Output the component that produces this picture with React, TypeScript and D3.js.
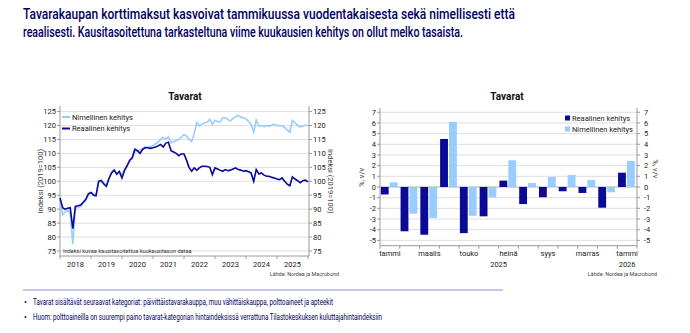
import React from 'react';
import * as d3 from 'd3';

// Monthly index, 2019 = 100, seasonally adjusted, Jan 2018 .. Jan 2026
const indexStart = new Date(2018, 0, 1);
const realIndex = [
  94, 90.5, 90, 90.3, 90.5, 83, 91, 91.2, 91.5, 92.5, 93.5, 95.5,
  96, 95, 94.8, 100, 100.3, 99, 98.2, 101, 103, 104, 102.5, 103.5,
  101.2, 104, 105.5, 107.5, 108.5, 111.5, 111, 110, 111.5, 112, 112, 111.8,
  112, 112.3, 112.7, 113.2, 112.3, 113.7, 114, 111, 110.5, 110, 109.2, 109.8,
  109.8, 107.5, 105, 103.6, 104.8, 104, 104.8, 105.4, 105.4, 105.3, 105, 102.4,
  104.8, 104.4, 104, 103.6, 104.2, 103.8, 104, 104.4, 104.8, 104.2, 104, 103.6,
  103.8, 103.4, 103, 100, 104.2, 102.6, 103, 102.2, 101.8, 101.8, 101.4, 101.2,
  100.8, 100.6, 101.2, 100, 99, 98.4, 101.6, 100.8, 100.2, 99.5, 100.2, 100.4,
  99.8,
];
const nominalIndex = [
  94, 88, 89, 89.5, 88.5, 77.5, 90.5, 90.5, 91, 92, 93.3, 95,
  96, 95.5, 95, 99.5, 100, 99.5, 98.5, 101, 103.5, 104, 103, 103.5,
  102.5, 104, 105.5, 107.5, 108, 110.5, 110.8, 111.3, 111.5, 112.5, 112, 112.5,
  112.7, 113.5, 114, 115, 115.7, 115.1, 116, 113.8, 114.2, 114.6, 115, 115.8,
  116.8, 116.2, 115, 114.3, 117, 121, 119.8, 120.5, 121, 121.2, 122.2, 120.4,
  121.9, 121.4, 121.2, 122.8, 122.8, 122.2, 121.6, 122.5, 123.2, 123.6, 123, 122.8,
  122.4, 121.5, 120.5, 117.6, 121.9, 119.7, 120, 119.6, 120, 119.7, 120.2, 120.4,
  119.9, 120, 119.8, 119.3, 118.4, 117.6, 121.9, 121, 120, 119.5, 119.8, 120.1,
  120,
];
const indexTicks = [75, 80, 85, 90, 95, 100, 105, 110, 115, 120, 125];
const yearLabels = [2018, 2019, 2020, 2021, 2022, 2023, 2024, 2025];

// Year-on-year change, %, Jan 2025 .. Jan 2026
const months = ['tammi', 'helmi', 'maalis', 'huhti', 'touko', 'kesä', 'heinä', 'elo', 'syys', 'loka', 'marras', 'joulu', 'tammi '];
const monthLabels = ['tammi', 'maalis', 'touko', 'heinä', 'syys', 'marras', 'tammi '];
const realYoY = [-0.7, -4.15, -4.47, 4.5, -4.32, -2.75, 0.6, -1.6, -0.96, -0.4, -0.56, -1.94, 1.34];
const nominalYoY = [0.44, -2.5, -2.9, 6.1, -2.7, -0.97, 2.5, 0.38, 0.94, 1.12, 0.66, -0.5, 2.44];
const pctTicks = [-5, -4, -3, -2, -1, 0, 1, 2, 3, 4, 5, 6, 7];

const DARK = '#0a0a96';
const LIGHT = '#99ccff';
const NAVY = '#00005e';
const GRID = '#dedede';
const AXIS = '#9a9a9a';
const TXT = '#222';
const FONT = 'Roboto, "Noto Sans", sans-serif';

const IndexChart = () => {
  const x = d3.scaleTime().domain([indexStart, new Date(2026, 0, 1)]).range([60, 308]);
  const y = d3.scaleLinear().domain([73.2, 127]).range([256, 106]);
  const dates = realIndex.map((_, i) => d3.timeMonth.offset(indexStart, i));
  const line = d3.line<number>().x((_, i) => x(dates[i])).y(d => y(d));
  const yearTicks = d3.range(2018, 2027).map(yr => new Date(yr, 0, 1));
  const [x0, x1] = x.range();
  const [yb, yt] = y.range();

  return (
    <g fontFamily={FONT}>
      <text x={185} y={100} textAnchor="middle" fontSize={10} fontWeight={700} fill="#111">Tavarat</text>
      {indexTicks.map(t => (
        <line key={t} x1={x0} x2={x1 + 1} y1={y(t)} y2={y(t)} stroke={GRID} strokeWidth={1} />
      ))}
      <line x1={x0} x2={x0} y1={yt} y2={yb} stroke={AXIS} />
      <line x1={x1 + 1} x2={x1 + 1} y1={yt} y2={yb} stroke={AXIS} />
      <line x1={x0} x2={x1 + 1} y1={yb} y2={yb} stroke={AXIS} />
      {indexTicks.map(t => (
        <g key={t} fontSize={7.5} fill={TXT}>
          <line x1={x0 - 3} x2={x0} y1={y(t)} y2={y(t)} stroke={AXIS} />
          <line x1={x1 + 1} x2={x1 + 4} y1={y(t)} y2={y(t)} stroke={AXIS} />
          <text x={x0 - 4} y={y(t) + 2.7} textAnchor="end">{t}</text>
          <text x={x1 + 5} y={y(t) + 2.7}>{t}</text>
        </g>
      ))}
      {yearTicks.map((d, i) => (
        <line key={i} x1={x(d)} x2={x(d)} y1={yb} y2={yb + 3} stroke={AXIS} />
      ))}
      {yearLabels.map(yr => (
        <text key={yr} x={(x(new Date(yr, 0, 1)) + x(new Date(yr + 1, 0, 1))) / 2} y={267}
          textAnchor="middle" fontSize={7.5} fill={TXT}>{yr}</text>
      ))}
      <text transform={`translate(43,${y(100)}) rotate(-90)`} textAnchor="middle" fontSize={7.5} fill="#444">Indeksi (2019=100)</text>
      <text transform={`translate(328,${y(100)}) rotate(90)`} textAnchor="middle" fontSize={7.5} fill="#444">Indeksi (2019=100)</text>
      <path d={line(nominalIndex) || ''} fill="none" stroke={LIGHT} strokeWidth={1.6} />
      <path d={line(realIndex) || ''} fill="none" stroke={DARK} strokeWidth={1.6} />
      <g fontSize={7.5} fill={TXT}>
        <line x1={62} x2={70} y1={117} y2={117} stroke={LIGHT} strokeWidth={2} />
        <text x={72} y={119.6}>Nimellinen kehitys</text>
        <line x1={62} x2={70} y1={128.5} y2={128.5} stroke={DARK} strokeWidth={2} />
        <text x={72} y={131}>Reaalinen kehitys</text>
      </g>
      <text x={63} y={253} fontSize={5.6} fill="#333">Indeksi kuvaa kausitasoitettua kuukausitason dataa</text>
      <text x={339} y={276} textAnchor="end" fontSize={5.4} fill="#444">Lähde: Nordea ja Macrobond</text>
    </g>
  );
};

const ChangeChart = () => {
  const x = d3.scaleBand<string>().domain(months).range([380, 637]);
  const bw = x.bandwidth();
  const inner = d3.scaleBand<string>().domain(['real', 'nominal']).range([0.8, bw - 2.2]).paddingInner(0.12);
  const y = d3.scaleLinear().domain([-5.5, 7.4]).range([245.7, 108]);
  const [x0, x1] = x.range();
  const [yb, yt] = y.range();
  const boundaries = d3.range(months.length + 1).map(i => x0 + i * bw);
  const year2025 = months.slice(0, 12);

  return (
    <g fontFamily={FONT}>
      <text x={507} y={100} textAnchor="middle" fontSize={10} fontWeight={700} fill="#111">Tavarat</text>
      {pctTicks.map(t => (
        <line key={t} x1={x0} x2={x1} y1={y(t)} y2={y(t)} stroke={t === 0 ? '#b0b0b0' : GRID} strokeWidth={1} />
      ))}
      {months.map((m, i) => (
        <g key={m}>
          <rect x={x(m)! + inner('real')!} y={y(Math.max(0, realYoY[i]))} width={inner.bandwidth()}
            height={Math.abs(y(realYoY[i]) - y(0))} fill={DARK} />
          <rect x={x(m)! + inner('nominal')!} y={y(Math.max(0, nominalYoY[i]))} width={inner.bandwidth()}
            height={Math.abs(y(nominalYoY[i]) - y(0))} fill={LIGHT} />
        </g>
      ))}
      <line x1={x0} x2={x0} y1={yt} y2={yb} stroke={AXIS} />
      <line x1={x1} x2={x1} y1={yt} y2={yb} stroke={AXIS} />
      <line x1={x0} x2={x1} y1={yb} y2={yb} stroke={AXIS} />
      {pctTicks.map(t => (
        <g key={t} fontSize={7.5} fill={TXT}>
          <line x1={x0 - 3} x2={x0} y1={y(t)} y2={y(t)} stroke={AXIS} />
          <line x1={x1} x2={x1 + 3} y1={y(t)} y2={y(t)} stroke={AXIS} />
          <text x={x0 - 4} y={y(t) + 2.7} textAnchor="end">{t}</text>
          <text x={x1 + 7} y={y(t) + 2.7}>{t}</text>
        </g>
      ))}
      {boundaries.map((bx, i) => (
        <line key={i} x1={bx} x2={bx} y1={yb} y2={yb + 3} stroke={AXIS} />
      ))}
      {monthLabels.map(m => (
        <text key={m} x={x(m)! + bw / 2} y={256} textAnchor="middle" fontSize={7.5} fill={TXT}>{m.trim()}</text>
      ))}
      <text x={(x(year2025[0])! + x(year2025[11])! + bw) / 2} y={267} textAnchor="middle" fontSize={7.5} fill={TXT}>2025</text>
      <text x={x(months[12])! + bw / 2} y={267} textAnchor="middle" fontSize={7.5} fill={TXT}>2026</text>
      <text transform={`translate(364,${y(0.9)}) rotate(-90)`} textAnchor="middle" fontSize={7.5} fill="#444">%, v/v</text>
      <text transform={`translate(653,${y(1.7)}) rotate(90)`} textAnchor="middle" fontSize={7.5} fill="#444">%, v/v</text>
      <g fontSize={7.5} fill={TXT}>
        <rect x={565} y={115.5} width={5} height={5} fill={DARK} />
        <text x={572} y={121}>Reaalinen kehitys</text>
        <rect x={565} y={126.5} width={5} height={5} fill={LIGHT} />
        <text x={572} y={132}>Nimellinen kehitys</text>
      </g>
      <text x={657} y={276} textAnchor="end" fontSize={5.4} fill="#444">Lähde: Nordea ja Macrobond</text>
    </g>
  );
};

export default function App() {
  return (
    <svg width={690} height={333} style={{ position: 'absolute', left: 0, top: 0, background: '#fff' }}>
      <g fontFamily={FONT} fill={NAVY} fontSize={14.5} fontWeight={500}>
        <text x={23} y={18.5} textLength={492} lengthAdjust="spacingAndGlyphs">
          Tavarakaupan korttimaksut kasvoivat tammikuussa vuodentakaisesta sekä nimellisesti että
        </text>
        <text x={23} y={37} textLength={440} lengthAdjust="spacingAndGlyphs">
          reaalisesti. Kausitasoitettuna tarkasteltuna viime kuukausien kehitys on ollut melko tasaista.
        </text>
      </g>
      <IndexChart />
      <ChangeChart />
      <line x1={23} x2={503} y1={290} y2={290} stroke="#8a8fd8" strokeWidth={1} />
      <g fontFamily={FONT} fill={NAVY} fontSize={8.5}>
        <text x={24} y={305}>•</text>
        <text x={33} y={305} textLength={300} lengthAdjust="spacingAndGlyphs">
          Tavarat sisältävät seuraavat kategoriat: päivittäistavarakauppa, muu vähittäiskauppa, polttoaineet ja apteekit
        </text>
        <text x={24} y={320}>•</text>
        <text x={33} y={320} textLength={349} lengthAdjust="spacingAndGlyphs">
          Huom: polttoaineilla on suurempi paino tavarat-kategorian hintaindeksissä verrattuna Tilastokeskuksen kuluttajahintaindeksiin
        </text>
      </g>
    </svg>
  );
}
